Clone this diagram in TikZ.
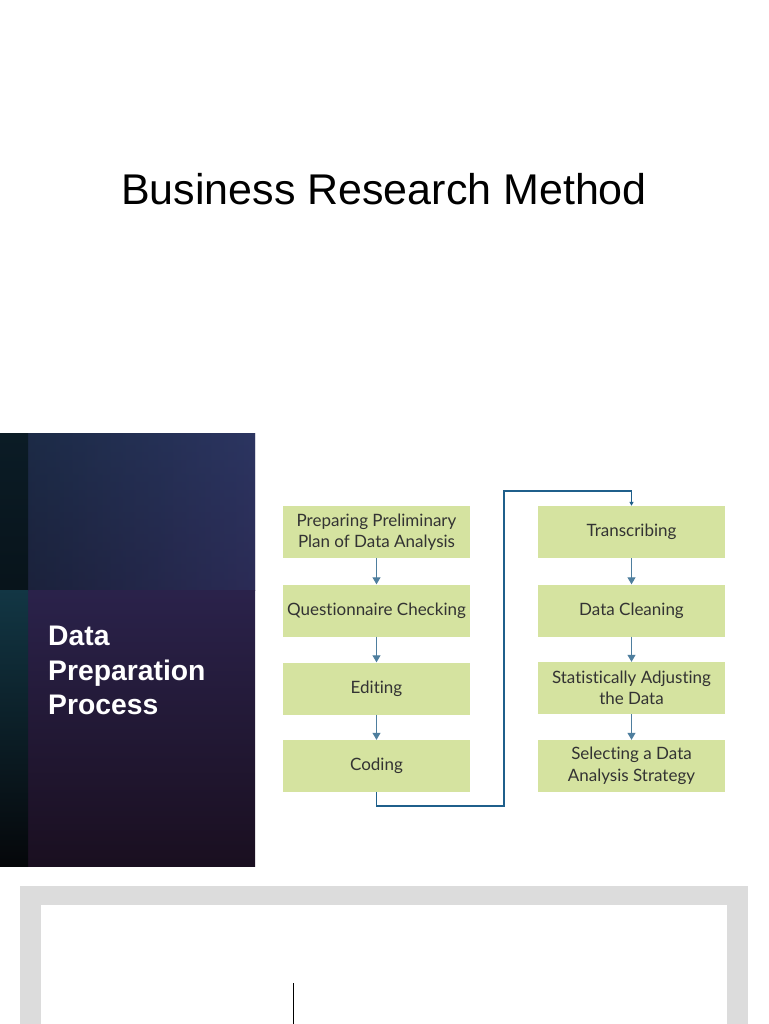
\documentclass[tikz,border=0pt]{standalone}
\usepackage{fontspec}
\setmainfont{Liberation Sans}
\newfontfamily\boxfont[Ligatures=NoCommon]{Lato}
\usetikzlibrary{arrows.meta}
\definecolor{boxgreen}{HTML}{D5E3A0}
\definecolor{boxtext}{HTML}{333333}
\definecolor{arrowblue}{HTML}{4E7E9E}
\definecolor{linkblue}{HTML}{1F5F8B}
\definecolor{framegray}{HTML}{DCDCDC}
\definecolor{pTopL}{HTML}{0F2331}
\definecolor{pTopR}{HTML}{2C3561}
\definecolor{pMid}{HTML}{2A2048}
\definecolor{pBot}{HTML}{1A0F20}
\definecolor{pStripTop}{HTML}{0B1C26}
\definecolor{pStripMid}{HTML}{123644}
\definecolor{pStripBot}{HTML}{05070A}
\tikzset{
  stepbox/.style={fill=boxgreen, minimum width=187pt, minimum height=52pt, inner sep=2pt,
    align=center, font=\boxfont\fontsize{17}{21.5}\selectfont, text=boxtext},
  flowarrow/.style={draw=arrowblue, line width=1pt, -{Triangle[length=7pt,width=8pt]}},
  linkarrow/.style={draw=linkblue, line width=1.4pt, -{Triangle[length=4pt,width=4pt]}}
}
\begin{document}
\begin{tikzpicture}[x=1pt,y=-1pt]
\useasboundingbox (0,0) rectangle (768,1024);
\fill[white] (0,0) rectangle (768,1024);
% title
\node[font=\fontsize{43}{50}\selectfont, anchor=center] (title) at (384,189) {Business Research Method};
% left panel
\shade[top color=pTopR, bottom color=pMid] (28,433) rectangle (255,590);
\shade[left color=pTopL, right color=pTopR, opacity=0.55] (28,433) rectangle (255,590);
\shade[top color=pMid!90!pTopR, bottom color=pBot] (28,590) rectangle (255,866);
\shade[top color=pStripTop, bottom color=pStripTop!70!black] (0,433) rectangle (28,590);
\shade[top color=pStripMid, bottom color=pStripBot] (0,590) rectangle (28,866);
\node[anchor=north west, align=left, text=white, inner sep=0pt, font=\bfseries\fontsize{28.3}{34.5}\selectfont] (ptitle) at (48,626) {Data\\Preparation\\Process};
% boxes left
\node[stepbox] (b1) at (376.5,532) {Preparing Preliminary\\Plan of Data Analysis};
\node[stepbox] (b2) at (376.5,610.5) {Questionnaire Checking};
\node[stepbox] (b3) at (376.5,688.5) {Editing};
\node[stepbox] (b4) at (376.5,766) {Coding};
% boxes right
\node[stepbox] (c1) at (631.5,532) {Transcribing};
\node[stepbox] (c2) at (631.5,610.5) {Data Cleaning};
\node[stepbox] (c3) at (631.5,688) {Statistically Adjusting\\the Data};
\node[stepbox] (c4) at (631.5,766) {Selecting a Data\\Analysis Strategy};
% arrows
\draw[flowarrow] (b1) -- (b2);
\draw[flowarrow] (b2) -- (b3);
\draw[flowarrow] (b3) -- (b4);
\draw[flowarrow] (c1) -- (c2);
\draw[flowarrow] (c2) -- (c3);
\draw[flowarrow] (c3) -- (c4);
\coordinate (l1) at (376.5,806);
\coordinate (l2) at (504,806);
\coordinate (l3) at (504,491);
\coordinate (l4) at (631.5,491);
\draw[linkarrow] (b4.south) -- (l1) -- (l2) -- (l3) -- (l4) -- (c1.north);
% bottom frame
\fill[framegray] (20,886) rectangle (748,1024);
\fill[white] (41,905) rectangle (727,1024);
\draw[black, line width=0.8pt] (293,983) -- (293,1024);
\end{tikzpicture}
\end{document}
